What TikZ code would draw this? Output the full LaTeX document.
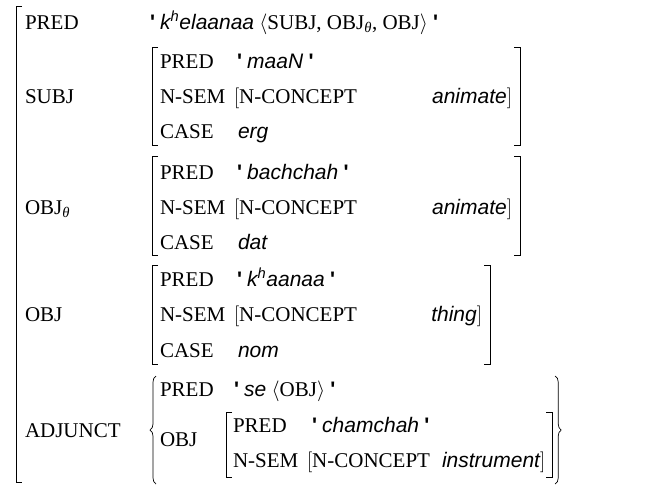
\documentclass[tikz,border=0pt]{standalone}
\usepackage{fontspec}
\setmainfont{Liberation Serif}
\newfontfamily\af{Liberation Sans}
\newfontfamily\qf{Liberation Sans}[Ligatures=TeXOff]
\usetikzlibrary{decorations.pathreplacing,calc}
\newcommand{\tk}{{\qf\bfseries\char"27}}
\newcommand{\vi}[1]{{\af\itshape #1}}
\newcommand{\ob}{$\bigl[$}
\newcommand{\cb}{$\bigr]$}
\begin{document}
\begin{tikzpicture}[x=1pt,y=-1pt,
  every node/.style={inner sep=0pt, outer sep=0pt, anchor=base west, font=\fontsize{21}{25}\selectfont},
  brk/.style={line width=0.7pt},
  valr/.style={anchor=base east}]
\useasboundingbox (0,0) rectangle (659,488);
\fill[white] (0,0) rectangle (659,488);
% outer bracket
\draw[brk] (22,6) -- (16,6) -- (16,482) -- (22,482);
% top row
\node (p0) at (25,29) {PRED};
\node (v0) at (150,29) {\tk\ \vi{k\textsuperscript{h}elaanaa} $\langle$SUBJ, OBJ\textsubscript{\textit{θ}}, OBJ$\rangle$ \tk};
% SUBJ
\node (l1) at (25,103) {SUBJ};
\draw[brk] (158,47) -- (152,47) -- (152,145) -- (158,145);
\draw[brk] (514,47) -- (520,47) -- (520,145) -- (514,145);
\node (a1) at (160,68) {PRED};
\node (a2) at (160,103) {N-SEM};
\node (a3) at (160,138) {CASE};
\node (b1) at (237,68) {\tk\ \vi{maaN}\ \tk};
\node (b2) at (234,103) {\ob N-CONCEPT};
\node[valr] (b2r) at (512,103) {\vi{animate}\cb};
\node (b3) at (238,138) {\vi{erg}};
% OBJ theta
\node (l2) at (25,214) {OBJ\textsubscript{\textit{θ}}};
\draw[brk] (158,156) -- (152,156) -- (152,255) -- (158,255);
\draw[brk] (514,156) -- (520,156) -- (520,255) -- (514,255);
\node (c1) at (160,179) {PRED};
\node (c2) at (160,214) {N-SEM};
\node (c3) at (160,249) {CASE};
\node (d1) at (237,179) {\tk\ \vi{bachchah}\ \tk};
\node (d2) at (234,214) {\ob N-CONCEPT};
\node[valr] (d2r) at (512,214) {\vi{animate}\cb};
\node (d3) at (238,249) {\vi{dat}};
% OBJ
\node (l3) at (25,321) {OBJ};
\draw[brk] (158,265) -- (152,265) -- (152,364) -- (158,364);
\draw[brk] (484,265) -- (490,265) -- (490,364) -- (484,364);
\node (e1) at (160,286) {PRED};
\node (e2) at (160,321) {N-SEM};
\node (e3) at (160,357) {CASE};
\node (f1) at (237,286) {\tk\ \vi{k\textsuperscript{h}aanaa}\ \tk};
\node (f2) at (234,321) {\ob N-CONCEPT};
\node[valr] (f2r) at (482,321) {\vi{thing}\cb};
\node (f3) at (238,357) {\vi{nom}};
% ADJUNCT
\node (l4) at (25,437) {ADJUNCT};
\draw[brk,decorate,decoration={brace,amplitude=6pt}] (156,484) -- (156,376);
\node (g1) at (160,396) {PRED};
\node (g2) at (160,446) {OBJ};
\node (h1) at (234,396) {\tk\ \vi{se} $\langle$OBJ$\rangle$ \tk};
\draw[brk] (232,412) -- (226,412) -- (226,477) -- (232,477);
\node (i1) at (233,432) {PRED};
\node (i2) at (233,467) {N-SEM};
\node (j1) at (312,432) {\tk\ \vi{chamchah}\ \tk};
\node (j2) at (307,467) {\ob N-CONCEPT};
\node (j2r) at ($(j2.base east)+(12,0)$) {\vi{instrument}\cb};
\draw[brk] let \p1=(j2r.base east) in (\x1+1pt,-412pt) -- (\x1+7pt,-412pt) -- (\x1+7pt,-477pt) -- (\x1+1pt,-477pt);
\draw[brk,decorate,decoration={brace,amplitude=6pt}] let \p1=(j2r.base east) in (\x1+10pt,-376pt) -- (\x1+10pt,-484pt);
\end{tikzpicture}
\end{document}
